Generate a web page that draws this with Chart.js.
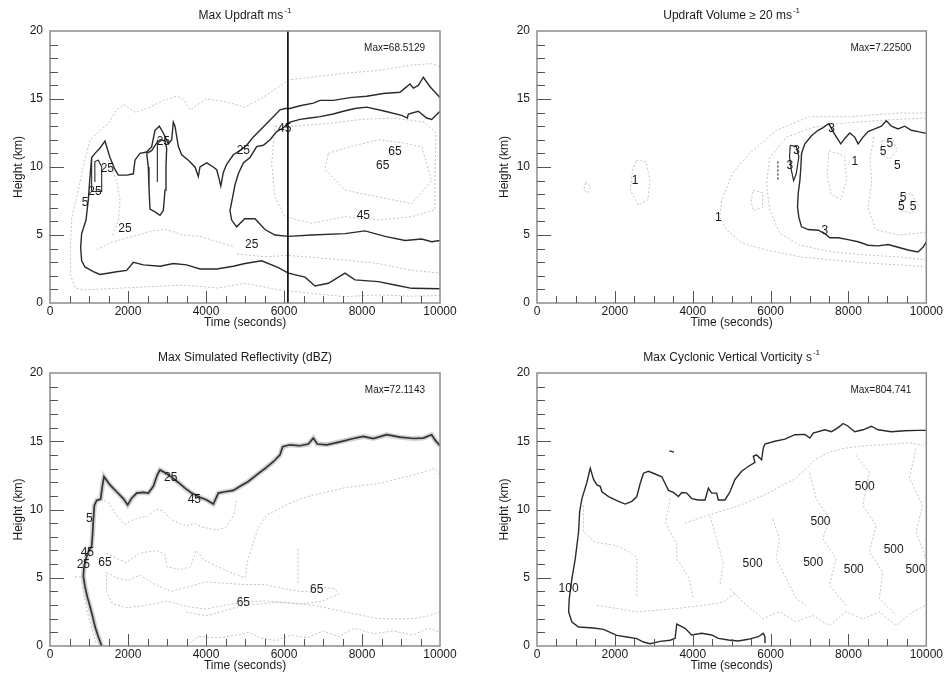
<!DOCTYPE html>
<html>
<head>
<meta charset="utf-8">
<script src="https://cdn.jsdelivr.net/npm/chart.js@4.4.1/dist/chart.umd.min.js"></script>
<style>
  html, body { margin: 0; padding: 0; background: #fff; }
  #wrap { position: relative; width: 944px; height: 675px; overflow: hidden; }
  #wrap canvas { position: absolute; display: block; }
</style>
</head>
<body>
<div id="wrap">
  <canvas id="updraft" width="472" height="337" style="left:0;top:0"></canvas>
  <canvas id="volume" width="472" height="337" style="left:472px;top:0"></canvas>
  <canvas id="reflect" width="472" height="338" style="left:0;top:337px"></canvas>
  <canvas id="vort" width="472" height="338" style="left:472px;top:337px"></canvas>
</div>
<script>
// axis ticks shared by all four panels
const timeTicks = [0, 2000, 4000, 6000, 8000, 10000];
const heightTicks = [0, 5, 10, 15, 20];

// ---- Max updraft (m/s): contour lines as [time s, height km] ----
const updraft5 = [[10000,15.1],[9744,15.9],[9573,16.6],[9444,16.0],[9316,15.8],[9231,16.1],[9103,15.8],[8974,15.5],[8547,15.4],[8120,15.2],[7692,15.1],[7265,14.9],[6923,14.9],[6752,14.7],[6410,14.5],[6154,14.3],[6026,14.3],[5897,14.2],[5726,13.7],[5556,13.2],[5385,12.7],[5214,12.2],[5043,11.6],[4915,11.3],[4701,10.9],[4530,10.2],[4444,9.6],[4380,8.6],[4330,9.2],[4274,9.8],[4188,10.0],[4017,10.3],[3846,10.0],[3803,9.3],[3718,10.0],[3547,10.5],[3376,10.9],[3291,11.5],[3205,13.0],[3162,13.3],[3120,12.0],[3034,11.7],[2906,12.5],[2803,13.0],[2692,12.7],[2607,11.5],[2479,11.1],[2308,11.0],[2179,10.5],[2137,9.5],[1966,9.4],[1752,9.4],[1667,9.8],[1538,10.7],[1410,11.9],[1282,11.4],[1154,11.0],[1068,10.7],[1026,9.3],[983,7.6],[923,6.1],[812,5.1],[786,4.1],[812,3.1],[897,2.65],[1111,2.3],[1282,2.1],[1709,2.3],[1966,2.4],[2137,3.0],[2393,2.8],[2821,2.7],[3162,2.9],[3504,2.8],[3846,2.5],[4274,2.5],[4701,2.7],[5000,2.9],[5427,3.1],[5855,2.6],[6111,2.2],[6538,1.9],[6795,1.25],[7137,1.45],[7564,2.2],[7820,1.7],[8419,1.57],[8846,1.32],[9274,1.08],[10000,1.05]];
const updraft25 = [[10000,14.1],[9786,13.5],[9658,13.6],[9444,14.1],[9188,13.9],[9162,13.6],[9017,13.8],[8590,14.1],[8120,14.4],[7820,14.3],[7521,14.1],[7265,13.9],[6923,13.7],[6667,13.6],[6410,13.5],[6154,13.3],[5940,12.8],[5812,12.6],[5641,12.0],[5470,11.6],[5299,11.5],[5128,10.7],[4957,10.3],[4829,9.5],[4744,8.7],[4684,7.8],[4615,6.8],[4658,6.1],[4786,5.6],[4991,6.2],[5256,6.2],[5513,5.4],[5769,5.0],[6111,4.9],[6709,5.0],[7564,5.1],[8077,5.3],[8590,4.9],[9103,4.6],[9530,4.7],[9786,4.5],[10000,4.6]];
const updraftLoop = [[2479,11.0],[2521,10.0],[2538,8.5],[2564,6.9],[2692,6.7],[2821,6.45],[2906,6.8],[2949,8.3],[2974,10.0],[2991,11.4],[2949,11.9],[2821,12.0],[2718,11.7],[2607,11.2],[2479,11.0]];
const updraftSpike = [[2752,12.0],[2752,8.9]];
const updraftLeft = [[1068,10.6],[1068,8.2],[1325,8.2],[1325,10.0],[1240,10.5],[1150,10.4],[1150,8.9]];
const updraftMarker = [[6100,0],[6100,20]];
const updraftFaint = [
  [[10000,17.4],[9786,17.6],[9274,17.5],[8419,17.1],[7564,16.9],[6709,16.6],[6111,16.4],[5513,15.2],[5000,14.4],[4500,14.8],[4000,15.0],[3590,14.2],[3400,15.0],[3248,15.2],[2906,14.9],[2564,14.4],[2200,14.0],[1900,14.6],[1709,14.2],[1500,13.2],[1282,12.7],[1026,12.0],[850,10.0],[684,7.8],[560,6.3],[520,4.0],[530,2.0],[650,1.1],[855,0.96],[1709,1.08],[2564,1.2],[3419,1.32],[4300,1.1],[5000,1.45],[5800,1.0],[6709,0.7],[7564,0.47],[8419,0.6],[9274,0.5],[10000,0.55]],
  [[5770,13.0],[6282,13.0],[7137,13.2],[7991,13.5],[8800,13.6],[9600,13.3],[9900,12.5],[9870,9.0],[9872,6.84],[9274,6.35],[8419,6.1],[7564,6.35],[6709,5.86],[6026,6.35],[5769,7.8],[5684,10.3],[5770,13.0]],
  [[7137,11.0],[7700,11.5],[8419,12.0],[9000,11.8],[9530,11.5],[9786,9.0],[9274,7.3],[8419,7.8],[7564,8.3],[7051,9.8],[7137,11.0]],
  [[4800,3.6],[5500,3.4],[6111,3.5],[7564,3.16],[8419,2.9],[9274,2.4],[10000,2.2]],
  [[1197,3.9],[1600,4.5],[2137,4.9],[2600,5.3],[2991,5.4],[3400,5.0],[3846,4.9],[4300,4.5],[4701,4.14]],
  [[1500,10.5],[1709,9.0],[1800,7.5],[1750,6.0],[1600,5.0]]
];
const updraftLabels = [[1470,9.9,'25'],[1154,8.2,'25'],[897,7.4,'5'],[1923,5.5,'25'],[2906,11.85,'25'],[4957,11.2,'25'],[6020,12.8,'45'],[8846,11.1,'65'],[8530,10.1,'65'],[8034,6.45,'45'],[5171,4.3,'25']];

// ---- Updraft volume >= 20 m/s ----
const volume3 = [[10000,12.47],[9786,12.6],[9615,12.7],[9444,13.0],[9274,12.8],[9103,13.0],[8974,13.4],[8846,13.0],[8675,12.8],[8504,12.6],[8376,12.2],[8248,11.7],[8162,12.2],[8034,12.5],[7906,12.1],[7803,11.7],[7692,12.2],[7564,12.8],[7496,13.2],[7350,12.9],[7222,12.7],[7051,12.3],[6880,11.7],[6795,11.0],[6778,10.0],[6752,9.0],[6709,8.05],[6692,7.07],[6726,6.3],[6795,5.6],[6966,5.4],[7222,5.35],[7393,5.1],[7521,4.8],[7735,4.8],[7991,4.66],[8248,4.5],[8504,4.25],[8761,4.2],[9017,4.3],[9274,4.1],[9530,3.9],[9786,3.75],[9915,4.1],[10000,4.5]];
const volumeLoop3 = [[6505,11.6],[6659,11.5],[6726,10.75],[6659,9.5],[6590,9.0],[6531,9.8],[6487,10.75],[6505,11.6]];
const volumeDash = [[6188,10.4],[6188,9.0]];
const volumeFaint = [
  [[10000,13.97],[9308,13.97],[8026,13.7],[7000,13.7],[6154,12.7],[5462,11.0],[5026,9.56],[4744,7.57],[4692,6.3],[4872,5.37],[5282,4.4],[5897,3.9],[6744,3.4],[7590,3.16],[8462,2.94],[9308,2.8],[10000,2.65]],
  [[10000,13.6],[8974,13.46],[7769,13.2],[7077,12.9],[6410,12.2],[5974,10.7],[5897,8.8],[5974,6.84],[6231,5.15],[6744,4.26],[7590,3.75],[8462,3.53],[9308,3.38],[10000,3.16]],
  [[2550,10.5],[2800,10.4],[2900,9.0],[2850,7.6],[2600,7.2],[2400,8.3],[2450,9.7],[2550,10.5]],
  [[1250,8.9],[1380,8.6],[1300,8.1],[1200,8.3],[1250,8.9]],
  [[5550,8.3],[5800,8.1],[5790,7.0],[5550,6.8],[5500,7.5],[5550,8.3]],
  [[7500,11.2],[7900,10.8],[7950,9.0],[7800,7.6],[7550,8.0],[7450,9.5],[7500,11.2]],
  [[8650,12.2],[8550,10.5],[8600,9.0],[8500,7.0],[8700,5.4],[9300,5.0],[10000,5.2]],
  [[8850,11.9],[9150,12.0],[9250,11.2],[9050,10.6],[8850,10.9],[8850,11.9]],
  [[9350,7.9],[9600,8.1],[9800,7.2],[9600,6.6],[9350,6.8],[9350,7.9]]
];
const volumeLabels = [[2521,9.0,'1'],[4658,6.3,'1'],[6496,10.1,'3'],[6667,11.2,'3'],[7564,12.8,'3'],[7393,5.35,'3'],[8162,10.4,'1'],[8889,11.1,'5'],[9060,11.7,'5'],[9256,10.1,'5'],[9402,7.75,'5'],[9359,7.1,'5'],[9658,7.07,'5']];

// ---- Max simulated reflectivity (dBZ) ----
const reflectEdge = [[1325,0],[1239,0.68],[1154,1.42],[1094,2.15],[1026,2.9],[957,3.6],[897,4.35],[855,5.1],[872,5.8],[923,6.4],[983,6.9],[1068,7.3],[1094,8.26],[1111,9.24],[1137,10.3],[1197,10.66],[1299,10.76],[1342,11.7],[1385,12.4],[1538,11.8],[1709,11.3],[1880,10.8],[1991,10.34],[2094,10.83],[2222,11.2],[2393,11.25],[2521,11.2],[2650,11.7],[2752,12.54],[2821,12.9],[2949,12.7],[3120,12.37],[3291,11.98],[3462,11.56],[3632,11.2],[3846,10.9],[4017,10.7],[4188,10.4],[4316,11.2],[4487,11.3],[4701,11.4],[4872,11.7],[5085,12.05],[5299,12.54],[5513,13.0],[5726,13.5],[5897,14.0],[5966,14.6],[6154,14.74],[6410,14.67],[6624,14.8],[6752,15.23],[6855,14.8],[7094,14.74],[7436,14.96],[7778,15.2],[8034,15.35],[8291,15.2],[8632,15.48],[8974,15.3],[9316,15.2],[9573,15.23],[9786,15.48],[9872,15.1],[10000,14.67]];
const reflectFaint = [
  [[1300,10.8],[1500,10.5],[1700,9.6],[1900,8.9],[2100,9.2],[2300,9.4],[2500,9.5],[2700,10.0],[2900,9.9],[3100,9.3],[3300,9.0],[3500,8.8],[3700,9.0],[3900,8.7],[4100,8.6],[4300,8.5],[4500,8.7],[4700,9.5],[4800,10.8]],
  [[1450,6.8],[1950,6.1],[2300,6.8],[2750,7.0],[2950,6.7],[3000,5.8],[3350,5.6],[3600,5.8],[3750,7.0],[3950,6.3],[4300,5.8],[4700,5.3],[5000,5.0],[5080,6.4],[5330,8.6],[5560,9.6],[6030,10.3],[6540,10.9],[7560,11.6],[8410,11.9],[9280,12.5],[9870,13.0],[10000,12.5]],
  [[1450,5.4],[1700,5.0],[2000,4.8],[2300,5.2],[2700,4.5],[3100,4.0],[3500,4.3],[4000,4.7],[4500,4.6],[5000,4.5],[5500,4.5],[6000,4.2],[6400,4.0],[6720,3.96],[7000,4.3],[7300,4.2],[7400,3.8],[7000,3.3],[6500,3.1],[6000,3.2],[5500,3.3],[4960,3.2],[4500,3.0],[4000,2.7],[3500,2.9],[3000,3.3],[2500,3.0],[2000,2.8],[1600,3.1],[1450,4.0],[1450,5.4]],
  [[3500,2.5],[4000,2.2],[4500,2.6],[5000,3.0],[5850,3.2],[6720,3.0],[7560,2.5],[8410,2.0],[9280,2.0],[9700,2.2],[10000,2.5]],
  [[3500,0],[3800,0.7],[4300,0.6],[4800,0.8],[5100,1.0],[5400,0.6],[5800,0.4],[6200,0.8],[6600,0.6],[7000,1.1],[7400,0.7],[7800,1.3],[8300,0.9],[8800,1.1],[9300,0.8],[9700,1.3],[10000,1.0]],
  [[6360,7.1],[6360,4.5]],
  [[640,5.05],[800,5.05],[850,4.0],[920,3.0],[1000,2.0],[1100,1.0],[1200,0]]
];
const reflectLabels = [[3094,12.3,'25'],[3701,10.7,'45'],[1009,9.36,'5'],[957,6.8,'45'],[855,5.99,'25'],[1410,6.14,'65'],[4957,3.18,'65'],[6838,4.16,'65']];

// ---- Max cyclonic vertical vorticity ----
const vort100 = [[10000,15.8],[9786,15.8],[9444,15.77],[9103,15.7],[8761,15.84],[8590,16.1],[8376,15.84],[8162,15.7],[7991,16.1],[7863,16.3],[7735,16.0],[7564,15.7],[7393,15.84],[7094,15.6],[7009,15.23],[6880,15.5],[6624,15.48],[6368,15.16],[6111,15.0],[5855,14.8],[5812,14.5],[5769,13.64],[5641,14.0],[5556,13.9],[5598,13.45],[5427,13.15],[5256,12.8],[5085,12.2],[4957,11.3],[4829,10.7],[4658,10.7],[4615,11.2],[4487,11.2],[4402,11.56],[4316,10.7],[4145,10.7],[3974,10.8],[3846,11.2],[3718,11.25],[3632,10.95],[3504,11.25],[3376,11.4],[3291,11.9],[3205,12.4],[3034,12.6],[2863,12.8],[2735,12.66],[2650,11.9],[2564,10.95],[2436,10.6],[2265,10.4],[2094,10.6],[1838,10.95],[1667,11.3],[1624,11.7],[1538,11.8],[1453,12.2],[1368,13.03],[1282,12.0],[1154,10.8],[1094,9.8],[1068,8.35],[983,6.4],[897,4.93],[829,3.47],[812,2.49],[897,1.76],[1068,1.39],[1453,1.32],[1709,1.22],[2051,0.78],[2308,0.66],[2564,0.54],[2735,0.29],[2906,0.17],[3162,0.34],[3419,0.42],[3547,0.56],[3590,1.61],[3803,1.3],[3974,0.81],[4231,0.93],[4487,0.81],[4658,0.56],[4915,0.44],[5171,0.37],[5427,0.49],[5684,0.68],[5812,0.93],[5855,0.68],[5855,0.2]];
const vortSpeck = [[3400,14.3],[3520,14.2]];
const vortFaint = [
  [[3800,9.0],[4300,9.5],[4949,10.06],[5300,10.4],[5633,10.8],[6000,11.3],[6316,11.8],[6600,12.2],[6915,13.0],[7171,13.7],[7513,14.2],[7855,14.46],[8200,14.6],[8539,14.7],[8900,14.75],[9222,14.8],[9560,14.9],[9906,14.7],[10000,14.8]],
  [[6060,9.3],[6231,7.86],[6145,6.4],[6402,4.93],[6658,3.47],[6900,3.0]],
  [[7000,12.7],[7171,10.8],[7513,9.3],[7342,7.86],[7684,6.4],[7513,4.45],[7940,2.98]],
  [[8197,13.97],[8539,12.7],[8368,10.3],[8710,8.84],[8539,6.9],[8880,5.4],[8795,3.47],[9222,2.25]],
  [[9735,14.46],[9564,12.3],[9906,10.3],[9735,8.35],[9991,6.4]],
  [[4949,4.2],[5376,2.98],[5803,2.0],[6231,2.5],[6658,1.76],[7085,2.25],[7513,1.5],[7940,2.5],[8368,2.0],[8795,2.5],[9222,1.5],[9650,2.5],[9991,2.98]],
  [[1538,2.98],[2137,2.7],[2564,2.5],[3419,2.7],[4274,2.98],[4786,3.2],[5128,3.96]],
  [[1197,10.3],[1197,8.35],[1500,7.6],[1966,7.4],[2300,7.0],[2564,6.5],[2564,3.5]],
  [[3419,10.8],[3300,9.0],[3590,7.5],[3590,6.4],[3900,5.0],[4017,3.5]],
  [[4444,9.5],[4600,8.0],[4786,6.0],[4700,4.5]]
];
const vortLabels = [[812,4.23,'100'],[5538,6.0,'500'],[7094,6.1,'500'],[7282,9.1,'500'],[8419,11.7,'500'],[8137,5.57,'500'],[9162,7.04,'500'],[9720,5.62,'500']];

const FONT = '"Liberation Sans", Arial, Helvetica, sans-serif';
const INK = '#1a1a1a';

const toXY = pts => pts.map(([x, y]) => ({ x, y }));

function dark(pts, width = 1.4, color = '#2a2a2a') {
  return { data: toXY(pts), showLine: true, pointRadius: 0, borderColor: color, borderWidth: width, tension: 0 };
}
function faint(pts) {
  return { data: toXY(pts), showLine: true, pointRadius: 0, borderColor: '#c2c2c2', borderWidth: 1, borderDash: [2, 2], tension: 0 };
}

// frame, inward tick marks, contour labels, max note and title
const panelDecor = {
  id: 'panelDecor',
  afterDatasetsDraw(chart, args, opts) {
    const { ctx, chartArea: a, scales: { x, y } } = chart;
    ctx.save();

    ctx.fillStyle = INK;
    ctx.font = '12px ' + FONT;
    ctx.textAlign = 'center';
    ctx.textBaseline = 'middle';
    opts.labels.forEach(([t, h, txt]) => {
      ctx.fillText(txt, x.getPixelForValue(t), y.getPixelForValue(h));
    });

    ctx.font = '10px ' + FONT;
    ctx.textAlign = 'right';
    ctx.fillText(opts.maxText, a.right - 15, a.top + 17);

    ctx.strokeStyle = '#8c8c8c';
    ctx.lineWidth = 1.5;
    ctx.strokeRect(a.left, a.top, a.right - a.left, a.bottom - a.top);

    ctx.strokeStyle = '#555';
    ctx.lineWidth = 1;
    for (let t = 500; t < 10000; t += 500) {
      const len = timeTicks.includes(t) ? 12 : 7;
      const px = Math.round(x.getPixelForValue(t)) + 0.5;
      ctx.beginPath(); ctx.moveTo(px, a.bottom); ctx.lineTo(px, a.bottom - len); ctx.stroke();
    }
    for (let h = 1; h < 20; h++) {
      const len = heightTicks.includes(h) ? 14 : 8;
      const py = Math.round(y.getPixelForValue(h)) + 0.5;
      ctx.beginPath(); ctx.moveTo(a.left, py); ctx.lineTo(a.left + len, py); ctx.stroke();
    }

    // title with optional superscript
    ctx.textAlign = 'left';
    ctx.font = '12px ' + FONT;
    const main = opts.title;
    const sup = opts.sup || '';
    const wMain = ctx.measureText(main).width;
    ctx.font = '8px ' + FONT;
    const wSup = sup ? ctx.measureText(sup).width + 1 : 0;
    const cx = (a.left + a.right) / 2;
    const ty = a.top - 15;
    let x0 = cx - (wMain + wSup) / 2;
    ctx.font = '12px ' + FONT;
    ctx.fillText(main, x0, ty);
    if (sup) {
      ctx.font = '8px ' + FONT;
      ctx.fillText(sup, x0 + wMain + 1, ty - 5);
    }
    ctx.restore();
  }
};

function makePanel(id, cfg) {
  const tickFont = { size: 12, family: FONT };
  new Chart(document.getElementById(id), {
    type: 'scatter',
    // Chart.js paints the first dataset last, so list the dark lines first
    data: { datasets: cfg.datasets.slice().reverse() },
    plugins: [panelDecor],
    options: {
      responsive: false,
      animation: false,
      events: [],
      layout: { padding: { left: 0, right: cfg.padRight, top: cfg.padTop, bottom: 0 } },
      plugins: {
        legend: { display: false },
        tooltip: { enabled: false },
        panelDecor: { labels: cfg.labels, maxText: cfg.maxText, title: cfg.title, sup: cfg.sup }
      },
      scales: {
        x: {
          type: 'linear', min: 0, max: 10000,
          afterBuildTicks: s => { s.ticks = timeTicks.map(v => ({ value: v })); },
          afterFit: s => { s.height = cfg.xHeight; },
          grid: { display: false, drawTicks: false },
          border: { display: false },
          ticks: { padding: 1, color: INK, font: tickFont, maxRotation: 0, autoSkip: false, callback: v => String(v) },
          title: { display: true, text: 'Time (seconds)', color: INK, font: tickFont, padding: { top: 0, bottom: cfg.xTitlePad } }
        },
        y: {
          type: 'linear', min: 0, max: 20,
          afterBuildTicks: s => { s.ticks = heightTicks.map(v => ({ value: v })); },
          afterFit: s => { s.width = cfg.yWidth; },
          grid: { display: false, drawTicks: false },
          border: { display: false },
          ticks: { padding: 7, color: INK, font: tickFont, autoSkip: false, callback: v => String(v) },
          title: { display: true, text: 'Height (km)', color: INK, font: tickFont, padding: { top: cfg.yTitlePad, bottom: 0 } }
        }
      }
    }
  });
}

makePanel('updraft', {
  datasets: [
    ...updraftFaint.map(faint),
    dark(updraft5), dark(updraft25), dark(updraftLoop), dark(updraftSpike, 1.1), dark(updraftLeft, 1.1),
    dark(updraftMarker, 1.6, '#000')
  ],
  labels: updraftLabels, maxText: 'Max=68.5129', title: 'Max Updraft ms', sup: '-1',
  padRight: 32, padTop: 31, yWidth: 50, xHeight: 34, xTitlePad: 7, yTitlePad: 11
});

makePanel('volume', {
  datasets: [
    ...volumeFaint.map(faint),
    dark(volume3), dark(volumeLoop3, 1.2),
    { ...dark(volumeDash, 1.2), borderDash: [2, 2] }
  ],
  labels: volumeLabels, maxText: 'Max=7.22500', title: 'Updraft Volume \u2265 20 ms', sup: '-1',
  padRight: 17, padTop: 31, yWidth: 65, xHeight: 34, xTitlePad: 7, yTitlePad: 25
});

makePanel('reflect', {
  datasets: [
    ...reflectFaint.map(faint),
    dark(reflectEdge, 5, '#d2d2d2'),
    dark(reflectEdge, 1.7, '#333')
  ],
  labels: reflectLabels, maxText: 'Max=72.1143', title: 'Max Simulated Reflectivity (dBZ)',
  padRight: 32, padTop: 36, yWidth: 50, xHeight: 29, xTitlePad: 2, yTitlePad: 11
});

makePanel('vort', {
  datasets: [
    ...vortFaint.map(faint),
    dark(vort100), dark(vortSpeck, 1.2)
  ],
  labels: vortLabels, maxText: 'Max=804.741', title: 'Max Cyclonic Vertical Vorticity s', sup: '-1',
  padRight: 17, padTop: 36, yWidth: 65, xHeight: 29, xTitlePad: 2, yTitlePad: 25
});
</script>
</body>
</html>
